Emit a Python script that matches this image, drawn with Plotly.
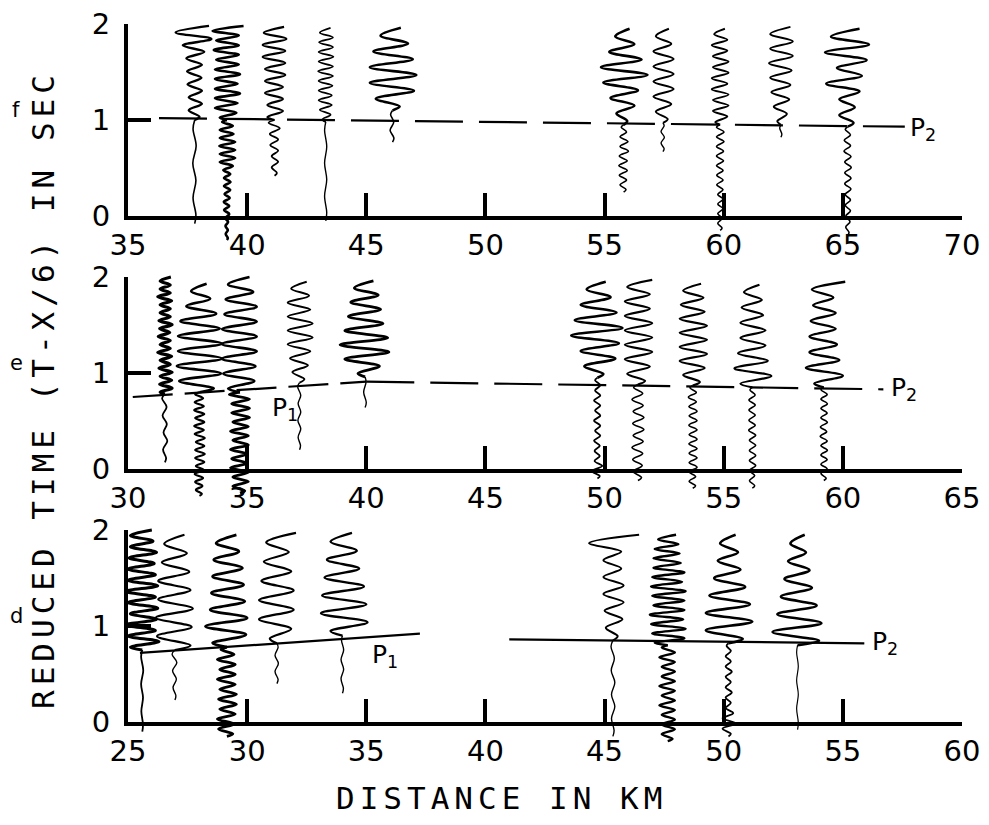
import plotly.graph_objects as go

# ---------------- data ----------------
PANEL_NAMES = ["f", "e", "d"]
X_RANGES = [[35, 70], [30, 65], [25, 60]]
X_TICKS = [[35, 40, 45, 50, 55, 60, 65, 70],
           [30, 35, 40, 45, 50, 55, 60, 65],
           [25, 30, 35, 40, 45, 50, 55, 60]]
Y_TICKS = [0, 1, 2]
X_TITLE = "DISTANCE IN KM"
Y_TITLE = "REDUCED TIME (T-X/6) IN SEC"

# panel f : trace distance (km), start / onset / end time (s), peak amplitudes (km)
F_DIST = [37.8, 39.15, 41.15, 43.3, 46.1, 55.8, 57.45, 59.85, 62.4, 65.2]
F_START = [-0.08, -0.25, 0.42, -0.05, 0.77, 0.25, 0.67, -0.15, 0.82, -0.2]
F_ONSET = [1.0, 1.0, 1.0, 0.98, 1.1, 0.95, 0.97, 0.95, 0.95, 0.93]
F_END = [1.98, 1.98, 1.97, 1.96, 1.96, 1.95, 1.95, 1.95, 1.97, 1.95]
F_PRE = [
    [0.05, 0.07, 0.05, 0.08, 0.06, 0.07],
    [0.04, 0.05, 0.04, 0.06, 0.05, 0.06, 0.10, 0.12, 0.10, 0.13, 0.12, 0.10, 0.14, 0.12, 0.15,
     0.12, 0.14, 0.15, 0.25, 0.30, 0.35, 0.30, 0.35, 0.32, 0.35, 0.30, 0.28, 0.30, 0.25, 0.20],
    [0.10, 0.12, 0.15, 0.12, 0.15, 0.18, 0.15, 0.20, 0.22, 0.25],
    [0.04, 0.05, 0.04, 0.05, 0.04, 0.05],
    [0.06, 0.10, 0.05, 0.08],
    [0.10, 0.15, 0.12, 0.18, 0.15, 0.20, 0.15, 0.18, 0.20, 0.15, 0.18, 0.15, 0.12, 0.10],
    [0.05, 0.08, 0.06, 0.08, 0.05],
    [0.08, 0.10, 0.08, 0.10, 0.12, 0.10, 0.12, 0.10, 0.12, 0.14, 0.12, 0.14, 0.12, 0.15, 0.14,
     0.15, 0.14, 0.15, 0.16, 0.15, 0.16, 0.15],
    [0.04, 0.05],
    [0.06, 0.08, 0.10, 0.08, 0.12, 0.10, 0.12, 0.10, 0.14, 0.12, 0.14, 0.12, 0.15, 0.12, 0.14,
     0.15, 0.12, 0.14, 0.12, 0.10],
]
F_POST = [
    [0.20, 0.25, 0.30, 0.25, 0.30, 0.30, 0.28, 0.32, 0.30, 0.35, 0.40, 0.50, 0.70, 0.80, 0.60],
    [0.30, 0.40, 0.50, 0.45, 0.50, 0.55, 0.50, 0.45, 0.50, 0.55, 0.50, 0.50, 0.45, 0.50, 0.55,
     0.50, 0.45, 0.50, 0.60, 0.70],
    [0.30, 0.35, 0.30, 0.35, 0.40, 0.35, 0.40, 0.45, 0.40, 0.45, 0.50, 0.45, 0.50, 0.50, 0.45, 0.40],
    [0.15, 0.20, 0.25, 0.25, 0.30, 0.25, 0.30, 0.28, 0.30, 0.30, 0.32, 0.30, 0.30, 0.32, 0.30,
     0.30, 0.28, 0.30, 0.25, 0.20],
    [0.30, 0.70, 0.90, 0.95, 1.00, 0.95, 0.85, 0.80, 0.65, 0.50, 0.35],
    [0.15, 0.30, 0.45, 0.55, 0.60, 0.85, 1.00, 0.95, 0.75, 0.60, 0.45, 0.35, 0.25],
    [0.20, 0.30, 0.35, 0.40, 0.45, 0.40, 0.45, 0.40, 0.45, 0.40, 0.35, 0.30, 0.25],
    [0.20, 0.30, 0.30, 0.35, 0.30, 0.35, 0.35, 0.30, 0.35, 0.35, 0.30, 0.35, 0.30, 0.30, 0.35,
     0.30, 0.25, 0.20],
    [0.15, 0.25, 0.30, 0.35, 0.40, 0.40, 0.45, 0.45, 0.50, 0.50, 0.45, 0.50, 0.45, 0.40],
    [0.25, 0.35, 0.30, 0.35, 0.50, 0.90, 0.60, 0.45, 0.80, 0.95, 0.90, 0.70, 0.50],
]

# panel e
E_DIST = [31.55, 33.0, 34.7, 37.2, 39.95, 49.7, 51.4, 53.7, 56.2, 59.2]
E_START = [0.07, -0.28, -0.25, 0.2, 0.64, -0.1, -0.12, -0.2, -0.2, -0.12]
E_ONSET = [0.78, 0.8, 0.8, 0.9, 0.96, 0.95, 0.88, 0.87, 0.85, 0.85]
E_END = [2.0, 1.93, 2.0, 1.95, 1.96, 1.95, 1.97, 1.93, 1.92, 1.95]
E_PRE = [
    [0.05, 0.08, 0.10, 0.06, 0.08, 0.10, 0.07, 0.12],
    [0.10, 0.15, 0.12, 0.18, 0.15, 0.20, 0.18, 0.15, 0.20, 0.18, 0.22, 0.18, 0.20, 0.15, 0.22,
     0.20, 0.18, 0.22, 0.20, 0.18, 0.20, 0.22, 0.18, 0.20, 0.15, 0.18],
    [0.20, 0.30, 0.35, 0.30, 0.35, 0.40, 0.30, 0.35, 0.30, 0.40, 0.35, 0.30, 0.35, 0.40, 0.35,
     0.30, 0.40, 0.35, 0.40, 0.35, 0.40, 0.45],
    [0.04, 0.06, 0.05, 0.07, 0.05, 0.06, 0.05, 0.08],
    [0.05, 0.06, 0.04],
    [0.10, 0.25, 0.20, 0.12, 0.10, 0.12, 0.10, 0.14, 0.12, 0.10, 0.12, 0.14, 0.12, 0.10, 0.12,
     0.14, 0.12, 0.10, 0.12, 0.10],
    [0.15, 0.20, 0.18, 0.22, 0.20, 0.25, 0.22, 0.20, 0.25, 0.22, 0.25, 0.20, 0.22, 0.25, 0.20, 0.18],
    [0.12, 0.15, 0.12, 0.15, 0.18, 0.15, 0.18, 0.15, 0.18, 0.16, 0.18, 0.15, 0.18, 0.16, 0.18,
     0.15, 0.18, 0.16, 0.15, 0.18, 0.15, 0.12],
    [0.10, 0.12, 0.10, 0.12, 0.14, 0.12, 0.14, 0.12, 0.14, 0.12, 0.14, 0.15, 0.12, 0.14, 0.12,
     0.14, 0.12, 0.14, 0.12, 0.10],
    [0.10, 0.12, 0.14, 0.12, 0.14, 0.12, 0.15, 0.12, 0.14, 0.15, 0.12, 0.14, 0.15, 0.12, 0.14,
     0.12, 0.15, 0.12, 0.14, 0.12],
]
E_POST = [
    [0.20, 0.30, 0.22, 0.28, 0.20, 0.30, 0.25, 0.22, 0.20, 0.28, 0.30, 0.22, 0.20, 0.22, 0.28,
     0.20, 0.22, 0.30, 0.25, 0.22, 0.20, 0.22, 0.20, 0.28, 0.30, 0.22, 0.20, 0.22, 0.20, 0.25],
    [0.60, 0.85, 0.90, 0.95, 0.95, 0.90, 0.95, 0.90, 0.85, 0.80, 0.70, 0.55, 0.45, 0.35, 0.30],
    [0.50, 0.60, 0.70, 0.65, 0.75, 0.70, 0.75, 0.70, 0.75, 0.70, 0.65, 0.70, 0.60, 0.55, 0.50, 0.40],
    [0.20, 0.30, 0.35, 0.40, 0.45, 0.50, 0.55, 0.50, 0.55, 0.50, 0.45, 0.50, 0.40, 0.35, 0.30],
    [0.30, 0.60, 0.85, 1.00, 1.05, 0.95, 0.85, 0.75, 0.70, 0.65, 0.60, 0.55, 0.45, 0.35],
    [0.25, 0.55, 0.75, 0.70, 0.90, 1.10, 1.05, 0.95, 0.80, 0.70, 0.55, 0.45, 0.35],
    [0.30, 0.45, 0.50, 0.55, 0.60, 0.55, 0.60, 0.55, 0.60, 0.55, 0.50, 0.55, 0.50, 0.45, 0.60],
    [0.30, 0.40, 0.50, 0.55, 0.60, 0.55, 0.60, 0.55, 0.60, 0.55, 0.50, 0.50, 0.45, 0.40, 0.35],
    [0.50, 0.80, 0.75, 0.65, 0.60, 0.55, 0.50, 0.55, 0.50, 0.45, 0.45, 0.40, 0.35, 0.30],
    [0.40, 0.80, 0.75, 0.65, 0.60, 0.55, 0.60, 0.50, 0.55, 0.50, 0.45, 0.40, 0.50, 0.90],
]

# panel d
D_DIST = [25.6, 26.97, 29.15, 31.25, 34.0, 45.35, 47.65, 50.2, 53.1]
D_START = [-0.1, 0.23, -0.15, 0.4, 0.3, -0.15, -0.2, -0.15, -0.08]
D_ONSET = [0.75, 0.75, 0.78, 0.82, 0.9, 0.85, 0.8, 0.82, 0.8]
D_END = [2.0, 1.95, 1.95, 1.97, 1.97, 1.95, 1.95, 1.95, 1.95]
D_PRE = [
    [0.03, 0.04, 0.03, 0.05, 0.04, 0.05],
    [0.04, 0.08, 0.06, 0.10, 0.08, 0.12],
    [0.25, 0.35, 0.30, 0.40, 0.35, 0.30, 0.40, 0.35, 0.40, 0.30, 0.35, 0.40, 0.35, 0.30, 0.35,
     0.40, 0.30, 0.25],
    [0.05, 0.08, 0.06, 0.08, 0.05],
    [0.04, 0.06, 0.05, 0.06, 0.05, 0.04],
    [0.05, 0.06, 0.08, 0.06, 0.08, 0.07, 0.06, 0.08],
    [0.20, 0.25, 0.30, 0.25, 0.30, 0.25, 0.30, 0.35, 0.30, 0.25, 0.30, 0.35, 0.30, 0.25, 0.30,
     0.25, 0.30, 0.35, 0.30, 0.25],
    [0.10, 0.25, 0.30, 0.25, 0.20, 0.12, 0.10, 0.12, 0.14, 0.12, 0.10, 0.12, 0.14, 0.12, 0.10,
     0.12, 0.10, 0.08],
    [0.03, 0.04, 0.03, 0.04, 0.03, 0.04],
]
D_POST = [
    [0.50, 0.70, 0.60, 0.55, 0.70, 0.60, 0.50, 0.65, 0.60, 0.55, 0.70, 0.65, 0.60, 0.55, 0.60,
     0.50, 0.55, 0.60, 0.50, 0.45, 0.50, 0.40],
    [0.65, 0.75, 0.70, 0.80, 0.75, 0.70, 0.65, 0.70, 0.60, 0.55, 0.50, 0.45, 0.40],
    [0.60, 0.80, 0.90, 0.85, 0.70, 0.75, 0.65, 0.70, 0.60, 0.65, 0.55, 0.50, 0.45, 0.40],
    [0.30, 0.60, 0.75, 0.70, 0.75, 0.70, 0.65, 0.60, 0.55, 0.50, 0.45, 0.80],
    [0.50, 1.05, 0.90, 1.00, 0.85, 0.90, 0.75, 0.70, 0.65, 0.60, 0.50, 0.40],
    [0.20, 0.30, 0.40, 0.35, 0.45, 0.40, 0.45, 0.40, 0.35, 0.40, 0.35, 1.00, 1.10],
    [0.55, 0.70, 0.65, 0.75, 0.70, 0.65, 0.75, 0.70, 0.60, 0.70, 0.65, 0.75, 0.70, 0.60, 0.65,
     0.70, 0.60, 0.55, 0.60, 0.50, 0.55, 0.45, 0.40, 0.35],
    [0.60, 0.95, 1.00, 0.95, 0.90, 0.80, 0.70, 0.60, 0.50, 0.45, 0.40, 0.35, 0.30],
    [0.90, 1.05, 1.00, 0.85, 0.80, 0.70, 0.60, 0.55, 0.50, 0.40, 0.35, 0.30, 0.30],
]

# phase correlation lines (distance km, reduced time s)
F_P2_X, F_P2_T = [36.3, 67.6], [1.02, 0.93]
E_P1_X, E_P1_T = [30.2, 40.0], [0.75, 0.91]
E_P2_X, E_P2_T = [40.0, 61.7], [0.91, 0.83]
D_P1_X, D_P1_T = [25.5, 37.25], [0.72, 0.92]
D_P2_X, D_P2_T = [41.0, 55.9], [0.86, 0.82]

# ---------------- styles / layout ----------------
F_W = [(1.6, 2.4), (2.6, 2.6), (1.8, 2.2), (1.4, 1.8), (1.6, 2.6), (1.6, 2.6), (1.4, 2.0),
       (1.6, 2.0), (1.4, 2.0), (1.6, 2.4)]
E_W = [(1.8, 3.2), (2.2, 2.6), (2.8, 2.6), (1.4, 2.0), (1.4, 2.8), (1.8, 2.6), (1.6, 2.2),
       (1.6, 2.2), (1.6, 2.2), (1.6, 2.4)]
D_W = [(1.8, 3.0), (1.4, 2.2), (2.8, 2.8), (1.4, 2.2), (1.4, 2.4), (1.4, 2.0), (2.4, 2.4),
       (1.8, 2.6), (1.2, 2.6)]

W, H = 989, 825
LEFT, RIGHT = 128, 962
TOPS = [24, 277, 530]
BOTS = [216, 469, 722]
PXKM = (RIGHT - LEFT) / 35.0
EXT_KM = 1.0
Y_LO, Y_HI = -0.35, 2.06

BLACK = "#000000"
TICK_FONT = dict(family="DejaVu Sans", size=29, color=BLACK)


def seismogram(dist, t0, ton, t1, pre, post):
    xs_pre, ts_pre = [dist], [t0]
    n = len(pre)
    for k, a in enumerate(pre):
        s = 1 if k % 2 == 0 else -1
        xs_pre.append(dist + s * a)
        ts_pre.append(t0 + (k + 0.5) * (ton - t0) / n)
    xs_pre.append(dist)
    ts_pre.append(ton)
    xs_post, ts_post = [dist], [ton]
    m = len(post)
    for k, a in enumerate(post):
        s = 1 if (m - 1 - k) % 2 == 0 else -1
        xs_post.append(dist + s * a)
        ts_post.append(ton + (k + 0.5) * (t1 - ton) / (m - 0.5))
    return (xs_pre, ts_pre), (xs_post, ts_post)


fig = go.Figure()
layout = {}

panels = [
    (F_DIST, F_START, F_ONSET, F_END, F_PRE, F_POST, F_W,
     [(F_P2_X, F_P2_T, "48px,16px")]),
    (E_DIST, E_START, E_ONSET, E_END, E_PRE, E_POST, E_W,
     [(E_P1_X, E_P1_T, "40px,12px"), (E_P2_X, E_P2_T, "48px,16px")]),
    (D_DIST, D_START, D_ONSET, D_END, D_PRE, D_POST, D_W,
     [(D_P1_X, D_P1_T, "solid"), (D_P2_X, D_P2_T, "solid")]),
]

annotations = []
for i, (dist, st, on, en, pre, post, wid, plines) in enumerate(panels):
    vis_x = "x" if i == 0 else f"x{i+1}"
    vis_y = "y" if i == 0 else f"y{i+1}"
    dat_x, dat_y = f"x{i+4}", f"y{i+4}"
    top, bot = TOPS[i], BOTS[i]
    pxs = (bot - top) / 2.0
    x0, x1 = X_RANGES[i]

    layout["xaxis" if i == 0 else f"xaxis{i+1}"] = dict(
        domain=[LEFT / W, RIGHT / W], range=[x0, x1], anchor=vis_y, automargin=False,
        showline=True, linewidth=4, linecolor=BLACK, mirror=False,
        ticks="inside", ticklen=23, tickwidth=3.5, tickcolor=BLACK,
        tickvals=X_TICKS[i], ticktext=[str(v) for v in X_TICKS[i]],
        tickfont=TICK_FONT, showgrid=False, zeroline=False, fixedrange=True,
        ticklabelstandoff=0)
    layout["yaxis" if i == 0 else f"yaxis{i+1}"] = dict(
        domain=[1 - bot / H, 1 - top / H], range=[0, 2], anchor=vis_x, automargin=False,
        showline=True, linewidth=4, linecolor=BLACK,
        ticks="inside", ticklen=23, tickwidth=3.5, tickcolor=BLACK,
        tickvals=Y_TICKS, ticktext=[str(v) for v in Y_TICKS],
        tickfont=TICK_FONT, showgrid=False, zeroline=False, fixedrange=True,
        ticklabelstandoff=8)
    layout[f"xaxis{i+4}"] = dict(
        domain=[(LEFT - EXT_KM * PXKM) / W, (RIGHT + EXT_KM * PXKM) / W], automargin=False,
        range=[x0 - EXT_KM, x1 + EXT_KM], anchor=dat_y, visible=False, fixedrange=True)
    layout[f"yaxis{i+4}"] = dict(
        domain=[1 - (bot - Y_LO * pxs) / H, 1 - (top - (Y_HI - 2) * pxs) / H], automargin=False,
        range=[Y_LO, Y_HI], anchor=dat_x, visible=False, fixedrange=True)

    fig.add_trace(go.Scatter(x=[x0], y=[0], xaxis=vis_x, yaxis=vis_y, mode="markers",
                             marker=dict(size=1, color="rgba(0,0,0,0)"),
                             showlegend=False, hoverinfo="skip"))

    for lx, lt, dash in plines:
        fig.add_trace(go.Scatter(x=lx, y=lt, xaxis=dat_x, yaxis=dat_y, mode="lines",
                                 line=dict(color=BLACK, width=2.2, dash=dash),
                                 showlegend=False, hoverinfo="skip"))

    for k in range(len(dist)):
        (xp, tp), (xq, tq) = seismogram(dist[k], st[k], on[k], en[k], pre[k], post[k])
        fig.add_trace(go.Scatter(x=xp, y=tp, xaxis=dat_x, yaxis=dat_y, mode="lines",
                                 line=dict(color=BLACK, width=wid[k][0], shape="spline",
                                           smoothing=1.0),
                                 showlegend=False, hoverinfo="skip"))
        fig.add_trace(go.Scatter(x=xq, y=tq, xaxis=dat_x, yaxis=dat_y, mode="lines",
                                 line=dict(color=BLACK, width=wid[k][1], shape="spline",
                                           smoothing=1.0),
                                 showlegend=False, hoverinfo="skip"))

    # panel letter
    annotations.append(dict(text=PANEL_NAMES[i], xref="paper", yref="paper",
                            x=16 / W, y=1 - ((top + bot) / 2 - 10) / H,
                            xanchor="center", yanchor="middle",
                            showarrow=False, font=dict(family="DejaVu Sans", size=21, color=BLACK)))

# phase labels
P_LAB_FONT = dict(family="DejaVu Sans", size=25, color=BLACK)
annotations.append(dict(text="P<sub>2</sub>", xref="x4", yref="y4", x=F_P2_X[-1] + 0.15,
                        y=F_P2_T[-1] - 0.02, xanchor="left", yanchor="middle",
                        showarrow=False, font=P_LAB_FONT))
annotations.append(dict(text="P<sub>2</sub>", xref="x5", yref="y5", x=E_P2_X[-1] + 0.25,
                        y=E_P2_T[-1] + 0.0, xanchor="left", yanchor="middle",
                        showarrow=False, font=P_LAB_FONT))
annotations.append(dict(text="P<sub>1</sub>", xref="x5", yref="y5", x=35.95,
                        y=0.62, xanchor="left", yanchor="middle",
                        showarrow=False, font=P_LAB_FONT))
annotations.append(dict(text="P<sub>1</sub>", xref="x6", yref="y6", x=35.15,
                        y=0.69, xanchor="left", yanchor="middle",
                        showarrow=False, font=P_LAB_FONT))
annotations.append(dict(text="P<sub>2</sub>", xref="x6", yref="y6", x=D_P2_X[-1] + 0.25,
                        y=D_P2_T[-1] + 0.0, xanchor="left", yanchor="middle",
                        showarrow=False, font=P_LAB_FONT))

# axis titles
annotations.append(dict(text=f"<span style='letter-spacing:5px'>{Y_TITLE}</span>",
                        xref="paper", yref="paper", x=43 / W, y=1 - 390 / H,
                        xanchor="center", yanchor="middle",
                        textangle=-90, showarrow=False,
                        font=dict(family="DejaVu Sans Mono", size=31, color=BLACK)))
annotations.append(dict(text=f"<span style='letter-spacing:5px'>{X_TITLE}</span>",
                        xref="paper", yref="paper", x=502 / W, y=1 - 798 / H,
                        xanchor="center", yanchor="middle",
                        showarrow=False,
                        font=dict(family="DejaVu Sans Mono", size=31, color=BLACK)))

fig.update_layout(width=W, height=H, margin=dict(l=0, r=0, t=0, b=0),
                  paper_bgcolor="white", plot_bgcolor="rgba(0,0,0,0)",
                  showlegend=False, annotations=annotations, **layout)

fig.write_html("out.html")
